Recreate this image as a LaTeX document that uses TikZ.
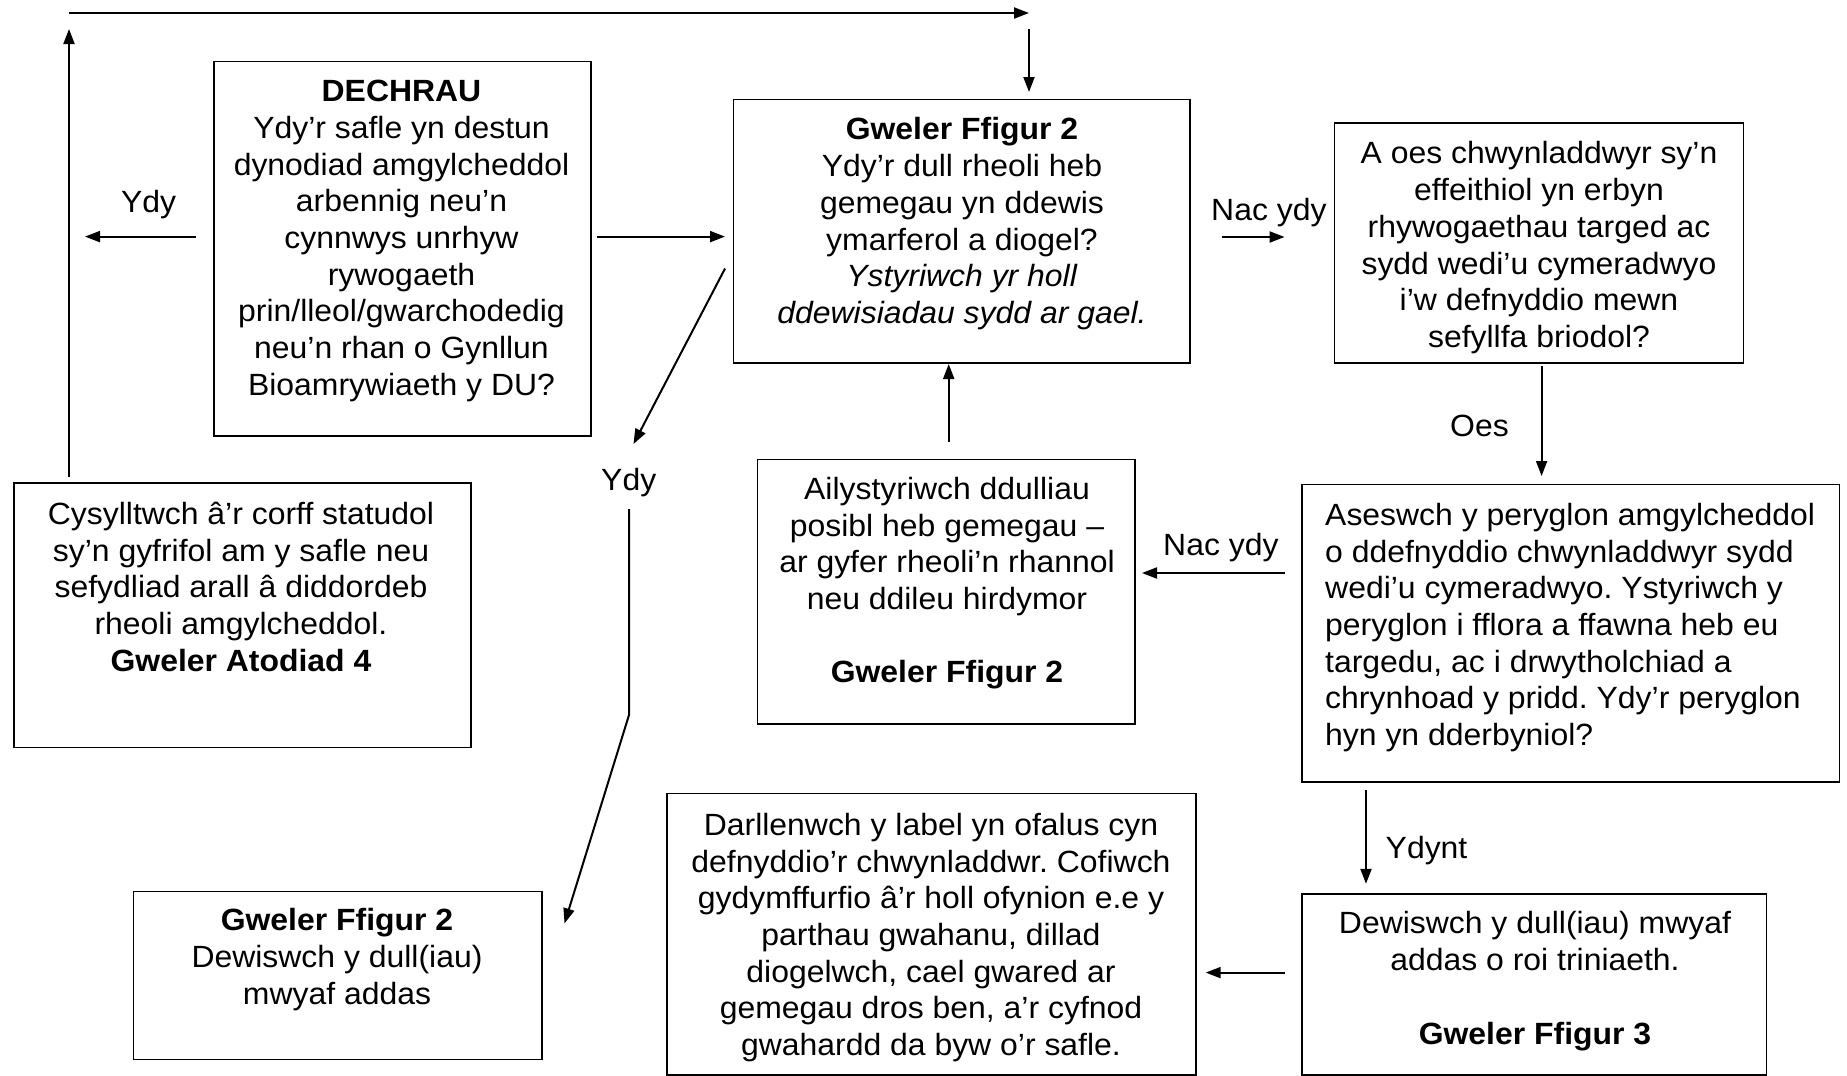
\documentclass[tikz,border=0pt]{standalone}
\usepackage{fontspec}
\setmainfont{Liberation Sans}[FakeStretch=1.04]
\usetikzlibrary{arrows.meta}
\newcommand{\mainsz}{\fontsize{30.7pt}{36.7pt}\selectfont}
\frenchspacing
\tikzset{
  box/.style={draw, line width=1.6pt, inner sep=0pt, anchor=north west},
  txt/.style={align=center, inner sep=0pt, anchor=north, font=\mainsz},
  lbl/.style={inner sep=0pt, anchor=base west, font=\mainsz},
  arr/.style={-{Triangle[length=15pt,width=11pt]}, line width=2pt},
  ln/.style={line width=2pt}
}
\begin{document}
\begin{tikzpicture}[x=1pt,y=-1pt]
\useasboundingbox (0,0) rectangle (1847,1076);
% boxes
\node[box, minimum width=377pt, minimum height=374.4pt] (startbox) at (213,60.6) {};
\node[box, minimum width=456.5pt, minimum height=263.5pt] (chembox) at (732.5,98.5) {};
\node[box, minimum width=409pt, minimum height=240pt] (herbbox) at (1333.5,122) {};
\node[box, minimum width=457pt, minimum height=264.7pt] (contactbox) at (13,482) {};
\node[box, minimum width=377.8pt, minimum height=264.3pt] (reconbox) at (756.6,458.7) {};
\node[box, minimum width=537.5pt, minimum height=297.2pt] (riskbox) at (1301,483.8) {};
\node[box, minimum width=408.4pt, minimum height=168pt] (methodbox) at (132.6,890.7) {};
\node[box, minimum width=529pt, minimum height=281.5pt] (labelbox) at (666,792.5) {};
\node[box, minimum width=464.5pt, minimum height=181pt] (treatbox) at (1301,893) {};
% texts
\node[txt] (startT) at (401.5,80) {\textbf{DECHRAU}\\Ydy’r safle yn destun\\dynodiad amgylcheddol\\arbennig neu’n\\cynnwys unrhyw\\rywogaeth\\prin/lleol/gwarchodedig\\neu’n rhan o Gynllun\\Bioamrywiaeth y DU?};
\node[txt] (chemT) at (962,117.5) {\textbf{Gweler Ffigur 2}\\Ydy’r dull rheoli heb\\gemegau yn ddewis\\ymarferol a diogel?\\\textit{Ystyriwch yr holl}\\\textit{ddewisiadau sydd ar gael.}};
\node[txt] (herbT) at (1539,141.5) {A oes chwynladdwyr sy’n\\effeithiol yn erbyn\\rhywogaethau targed ac\\sydd wedi’u cymeradwyo\\i’w defnyddio mewn\\sefyllfa briodol?};
\node[txt] (contactT) at (241,502) {Cysylltwch â’r corff statudol\\sy’n gyfrifol am y safle neu\\sefydliad arall â diddordeb\\rheoli amgylcheddol.\\\textbf{Gweler Atodiad 4}};
\node[txt] (reconT) at (947,477) {Ailystyriwch ddulliau\\posibl heb gemegau –\\ar gyfer rheoli’n rhannol\\neu ddileu hirdymor\\[36.7pt]\textbf{Gweler Ffigur 2}};
\node[txt, align=left, anchor=north west] (riskT) at (1325,503) {Aseswch y peryglon amgylcheddol\\o ddefnyddio chwynladdwyr sydd\\wedi’u cymeradwyo. Ystyriwch y\\peryglon i fflora a ffawna heb eu\\targedu, ac i drwytholchiad a\\chrynhoad y pridd. Ydy’r peryglon\\hyn yn dderbyniol?};
\node[txt] (methodT) at (337,908.5) {\textbf{Gweler Ffigur 2}\\Dewiswch y dull(iau)\\mwyaf addas};
\node[txt] (labelT) at (931,813) {Darllenwch y label yn ofalus cyn\\defnyddio’r chwynladdwr. Cofiwch\\gydymffurfio â’r holl ofynion e.e y\\parthau gwahanu, dillad\\diogelwch, cael gwared ar\\gemegau dros ben, a’r cyfnod\\gwahardd da byw o’r safle.};
\node[txt] (treatT) at (1535,911.5) {Dewiswch y dull(iau) mwyaf\\addas o roi triniaeth.\\[36.7pt]\textbf{Gweler Ffigur 3}};
% labels
\node[lbl] (ydyA) at (121,212.5) {Ydy};
\node[lbl] (nacA) at (1211,220.4) {Nac ydy};
\node[lbl] (oesL) at (1450,436.6) {Oes};
\node[lbl] (ydyB) at (601,490.7) {Ydy};
\node[lbl] (nacB) at (1163,555) {Nac ydy};
\node[lbl] (ydyntL) at (1385.5,858) {Ydynt};
% connector end points
\coordinate (upS) at (69,477);
\coordinate (upE) at (69,29);
\coordinate (topS) at (69,13);
\coordinate (topE) at (1029,13);
\coordinate (downS) at (1029,29);
\coordinate (downE) at (1029,92);
\coordinate (ydyS) at (196,236.6);
\coordinate (ydyE) at (85,236.6);
\coordinate (stS) at (597,236.6);
\coordinate (stE) at (725,236.6);
\coordinate (diaS) at (725,268.6);
\coordinate (diaE) at (633.5,444);
\coordinate (lowS) at (629,509);
\coordinate (lowM) at (629,715);
\coordinate (lowE) at (564.5,923.4);
\coordinate (nacS) at (1221.6,237);
\coordinate (nacE) at (1284.6,237);
\coordinate (oesS) at (1541.6,365.7);
\coordinate (oesE) at (1541.6,476);
\coordinate (recS) at (948.7,441.5);
\coordinate (recE) at (948.7,364);
\coordinate (nbS) at (1284.6,573);
\coordinate (nbE) at (1142,573);
\coordinate (ynS) at (1366,789.8);
\coordinate (ynE) at (1366,883.8);
\coordinate (trS) at (1284.6,972.6);
\coordinate (trE) at (1205.7,972.6);
% connectors
\draw[arr] (upS) -- (upE);
\draw[arr] (topS) -- (topE);
\draw[arr] (downS) -- (downE);
\draw[arr] (ydyS) -- (ydyE);
\draw[arr] (stS) -- (stE);
\draw[arr] (diaS) -- (diaE);
\draw[arr] (lowS) -- (lowM) -- (lowE);
\draw[arr] (nacS) -- (nacE);
\draw[arr] (oesS) -- (oesE);
\draw[arr] (recS) -- (recE);
\draw[arr] (nbS) -- (nbE);
\draw[arr] (ynS) -- (ynE);
\draw[arr] (trS) -- (trE);
\end{tikzpicture}
\end{document}
